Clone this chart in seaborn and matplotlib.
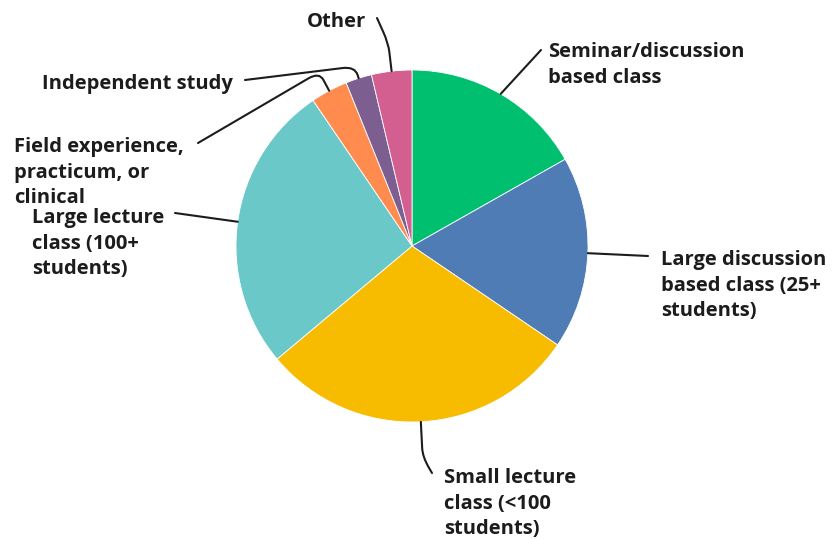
import matplotlib
matplotlib.use("Agg")
import matplotlib.pyplot as plt
import matplotlib.patches as mpatches
from matplotlib.path import Path
import seaborn as sns
import numpy as np

# ---- data ----
categories = [
    "Seminar/discussion\nbased class",
    "Large discussion\nbased class (25+\nstudents)",
    "Small lecture\nclass (<100\nstudents)",
    "Large lecture\nclass (100+\nstudents)",
    "Field experience,\npracticum, or\nclinical",
    "Independent study",
    "Other",
]
shares = [16.8, 17.7, 29.4, 26.6, 3.4, 2.4, 3.7]
colors = ["#00BF6F", "#507CB6", "#F7BC00", "#6BC8C8", "#FF8B4F", "#7D5E90", "#D25F90"]

sns.set_theme(style="white")
plt.rcParams["font.family"] = ["Open Sans", "DejaVu Sans"]

W, H = 836, 539
CX, CY, R = 412, 246, 176

fig = plt.figure(figsize=(W / 100, H / 100), dpi=100)
ax = fig.add_axes([0, 0, 1, 1])

wedges, _ = ax.pie(shares, colors=colors, startangle=90, counterclock=False,
                   radius=1.0, wedgeprops=dict(linewidth=0.6, edgecolor="white"))
ax.set_xlim(-CX / R, (W - CX) / R)
ax.set_ylim(-(H - CY) / R, CY / R)
ax.set_aspect("equal")
ax.axis("off")


def px(x, y):
    return ((x - CX) / R, (CY - y) / R)


# label layout: text top-left (px), connector end (px), elbow radius
layout = [
    dict(text=(548, 42), end=(541, 50), elbow=None),
    dict(text=(661, 250), end=(648, 256), elbow=None),
    dict(text=(444, 468), end=(432, 473), elbow=1.2),
    dict(text=(32, 208), end=(175, 213), elbow=None),
    dict(text=(14, 137), end=(198, 143), elbow=1.12),
    dict(text=(42, 74), end=(245, 80), elbow=1.07),
    dict(text=(307, 12), end=(377, 18), elbow=1.16),
]

for w, lab, lay in zip(wedges, categories, layout):
    mid = np.deg2rad((w.theta1 + w.theta2) / 2)
    d = np.array([np.cos(mid), np.sin(mid)])
    p0 = d * 1.0
    p2 = np.array(px(*lay["end"]))
    if lay["elbow"] is None:
        verts = [p0, p2]
        codes = [Path.MOVETO, Path.LINETO]
    else:
        p1 = d * lay["elbow"]
        a = p1 - d * 0.05
        v = p2 - p1
        b = p1 + v / np.linalg.norm(v) * 0.07
        verts = [p0, a, p1, b, p2]
        codes = [Path.MOVETO, Path.LINETO, Path.CURVE3, Path.CURVE3, Path.LINETO]
    ax.add_patch(mpatches.PathPatch(Path(verts, codes), fill=False,
                                    lw=1.5, edgecolor="#1c1c1c", capstyle="round"))
    tx, ty = px(*lay["text"])
    ax.text(tx, ty, lab, ha="left", va="top", fontsize=14.5, fontweight="bold",
            color="#1c1c1c", linespacing=1.38)

fig.savefig("out.png", dpi=100, facecolor="white")
